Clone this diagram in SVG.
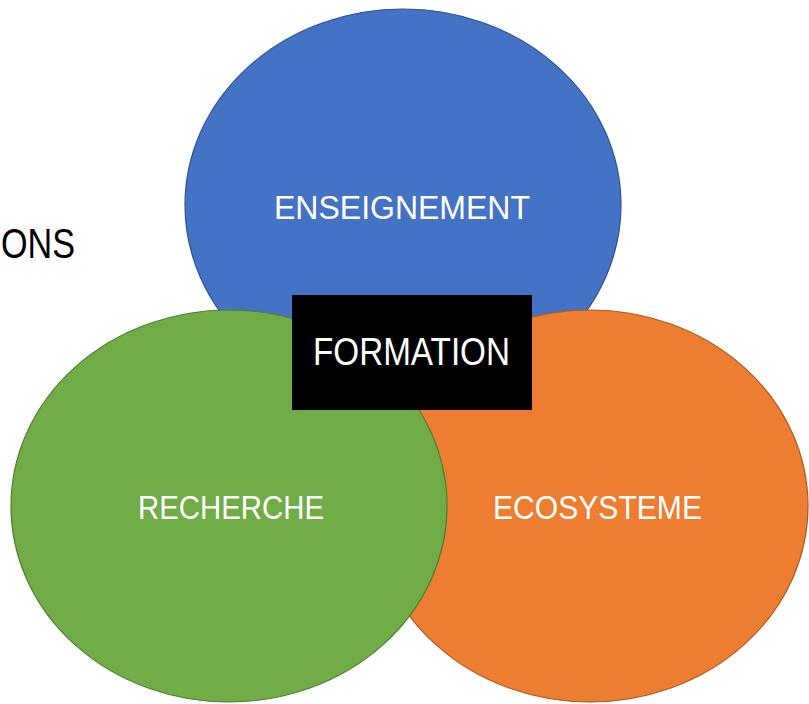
<svg xmlns="http://www.w3.org/2000/svg" width="809" height="704" viewBox="0 0 809 704">
<style>
.lbl{font-family:"Liberation Sans",Arial,sans-serif;fill:#fff;font-size:33px}
</style>
<rect width="809" height="704" fill="#fff"/>
<text x="1" y="258" font-family="'Liberation Sans',Arial,sans-serif" font-size="42" fill="#000" textLength="74" lengthAdjust="spacingAndGlyphs">ONS</text>
<g id="enseignement">
<ellipse cx="403" cy="205" rx="218" ry="196" fill="#4472C4" stroke="#2F528F" stroke-width="1.2"/>
<text class="lbl" x="274" y="219" textLength="256" lengthAdjust="spacingAndGlyphs">ENSEIGNEMENT</text>
</g>
<g id="ecosysteme">
<ellipse cx="590" cy="506" rx="218" ry="196" fill="#ED7D31" stroke="#AE5A21" stroke-width="1.2"/>
<text class="lbl" x="493" y="519" textLength="209" lengthAdjust="spacingAndGlyphs">ECOSYSTEME</text>
</g>
<g id="recherche">
<ellipse cx="229" cy="506" rx="218" ry="196" fill="#70AD47" stroke="#507E32" stroke-width="1.2"/>
<text class="lbl" x="138" y="519" textLength="186" lengthAdjust="spacingAndGlyphs">RECHERCHE</text>
</g>
<g id="formation">
<rect x="292" y="295" width="240" height="115" fill="#000"/>
<text class="lbl" x="313" y="365" textLength="197" lengthAdjust="spacingAndGlyphs" style="font-size:38px">FORMATION</text>
</g>
<g id="connectors"></g>
</svg>
